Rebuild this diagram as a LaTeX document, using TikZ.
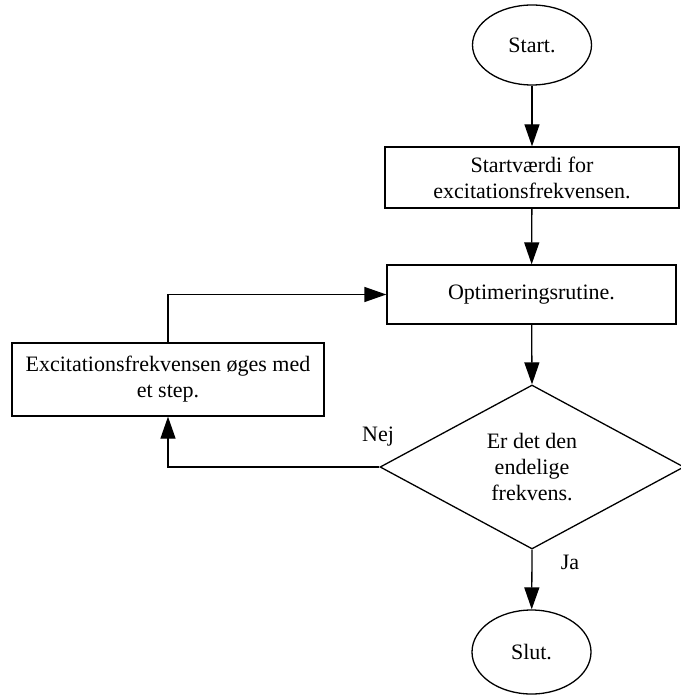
\documentclass[tikz,border=0pt]{standalone}
\usepackage{fontspec}
\setmainfont{Liberation Serif}
\usetikzlibrary{shapes.geometric,arrows.meta}
\begin{document}
\begin{tikzpicture}[x=1pt,y=-1pt,
  every node/.style={font=\fontsize{22}{26}\selectfont, align=center, inner sep=0pt},
  conn/.style={line width=1.3pt, -{Triangle[length=22pt,width=15pt]}},
  term/.style={draw, line width=1.3pt, ellipse, minimum width=119pt, minimum height=80pt},
  proc/.style={draw, line width=1.3pt, rectangle},
  decide/.style={draw, line width=1.3pt, diamond, minimum width=304pt, minimum height=164pt}]
\useasboundingbox (0,0) rectangle (680,695);
\node[term] (start) at (532,45) {Start.};
\node[proc, minimum width=294pt, minimum height=61pt] (init) at (532,177.5) {Startværdi for\\excitationsfrekvensen.};
\node[proc, minimum width=289pt, minimum height=59pt] (opt) at (531.5,294.5) {Optimeringsrutine.};
\node[proc, minimum width=312pt, minimum height=73pt] (inc) at (168,379.5) {Excitationsfrekvensen øges med\\et step.};
\node[decide] (dec) at (532,467) {Er det den\\endelige\\frekvens.};
\node[term, minimum height=84pt] (slut) at (531.5,652) {Slut.};
\node (nej) at (378,437) {Nej};
\node (ja) at (570,562) {Ja};
\draw[conn] (start) -- (init);
\draw[conn] (init) -- (opt);
\draw[conn] (opt) -- (dec.north);
\draw[conn] (dec.south) -- (slut);
\draw[conn] (dec.west) -| (inc.south);
\draw[conn] (inc.north) |- (opt.west);
\end{tikzpicture}
\end{document}
